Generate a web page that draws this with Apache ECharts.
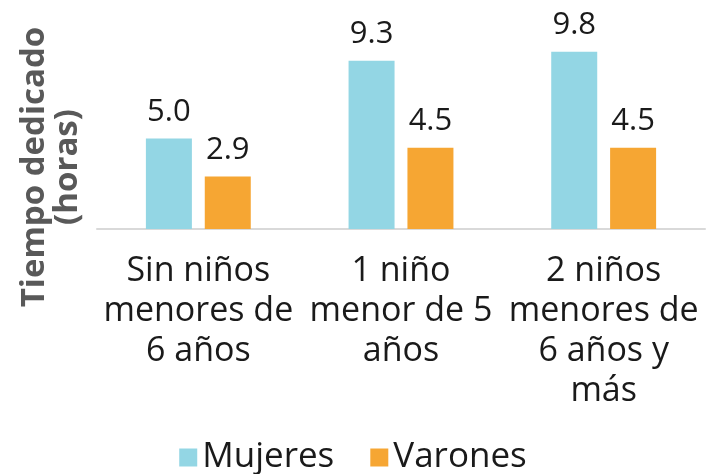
<!DOCTYPE html>
<html>
<head>
<meta charset="utf-8">
<script src="https://cdn.jsdelivr.net/npm/echarts@6/dist/echarts.min.js"></script>
<style>
  html, body { margin: 0; padding: 0; background: #fff; }
  #chart { width: 706px; height: 474px; }
</style>
</head>
<body>
<div id="chart"></div>
<script>
// data
var categories = ['Sin niños\nmenores de\n6 años', '1 niño\nmenor de 5\naños', '2 niños\nmenores de\n6 años y\nmás'];
var seriesNames = ['Mujeres', 'Varones'];
var mujeres = [5.0, 9.3, 9.8];
var varones = [2.9, 4.5, 4.5];

var font = '"Open Sans", Lato, sans-serif';
var textColor = '#1a1a1a';

var chart = echarts.init(document.getElementById('chart'));

var labelStyle = {
  show: true,
  position: 'top',
  distance: 11,
  color: textColor,
  fontFamily: font,
  fontSize: 31,
  formatter: function (p) { return p.value.toFixed(1); }
};

var option = {
  animation: false,
  grid: { left: 97, right: 1, top: 12, bottom: 245 },
  legend: {
    data: seriesNames,
    bottom: -6,
    left: 'center',
    itemWidth: 18,
    itemHeight: 18,
    itemGap: 36,
    icon: 'rect',
    textStyle: { color: textColor, fontFamily: font, fontSize: 35 }
  },
  graphic: [{
    type: 'text',
    x: 51,
    y: 167,
    rotation: Math.PI / 2,
    style: {
      text: 'Tiempo dedicado\n(horas)',
      fill: '#595959',
      font: 'bold 33px ' + font,
      textAlign: 'center',
      textVerticalAlign: 'middle',
      lineHeight: 33
    }
  }],
  xAxis: {
    type: 'category',
    data: categories,
    axisLine: { lineStyle: { color: '#d9d9d9', width: 2 } },
    axisTick: { show: false },
    axisLabel: {
      margin: 22,
      color: textColor,
      fontFamily: font,
      fontSize: 34,
      lineHeight: 40,
      interval: 0
    }
  },
  yAxis: {
    type: 'value',
    min: 0,
    max: 12,
    axisLine: { show: false },
    axisTick: { show: false },
    axisLabel: { show: false },
    splitLine: { show: false }
  },
  series: [
    {
      name: seriesNames[0],
      type: 'bar',
      data: mujeres,
      barWidth: 46,
      barGap: '28%',
      itemStyle: { color: '#93d6e4' },
      label: labelStyle
    },
    {
      name: seriesNames[1],
      type: 'bar',
      data: varones,
      barWidth: 46,
      barGap: '28%',
      itemStyle: { color: '#f6a633' },
      label: labelStyle
    }
  ]
};

chart.setOption(option);
</script>
</body>
</html>
